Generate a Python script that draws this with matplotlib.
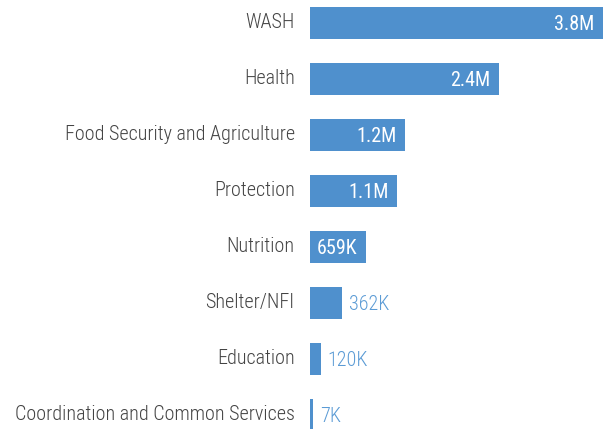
import matplotlib.pyplot as plt
import matplotlib.transforms as mtransforms

plt.rcParams['font.family'] = ['Roboto Condensed', 'Roboto', 'DejaVu Sans']
plt.rcParams['font.weight'] = 'light'

categories = ['WASH', 'Health', 'Food Security and Agriculture', 'Protection',
              'Nutrition', 'Shelter/NFI', 'Education', 'Coordination and Common Services']
values = [3.8e6, 2.45e6, 1.23e6, 1.13e6, 0.72e6, 0.41e6, 0.14e6, 0.045e6]
labels = ['3.8M', '2.4M', '1.2M', '1.1M', '659K', '362K', '120K', '7K']

bar_color = '#4f90cd'

fig = plt.figure(figsize=(6.06, 4.29), dpi=100)
ax = fig.add_axes([310 / 606, 0, 293 / 606, 1])

pos = list(range(len(categories)))
ax.barh(pos, values, height=0.57, color=bar_color)
ax.set_xlim(0, 3.8e6)
ax.set_ylim(7.25, -0.41)

for i, (v, lab) in enumerate(zip(values, labels)):
    if v >= 600e3:
        ax.annotate(lab, (v, i), xytext=(-6, -1), textcoords='offset points',
                    ha='right', va='center', color='white', fontsize=14.5,
                    fontweight='normal')
    else:
        ax.annotate(lab, (v, i), xytext=(5, -1), textcoords='offset points',
                    ha='left', va='center', color='#5b9bd5', fontsize=14.5)

ax.set_yticks(pos)
ax.set_yticklabels(categories, fontsize=14.5, color='#444444')
ax.tick_params(axis='y', length=0, pad=11)
# nudge category labels up a little
shift = mtransforms.ScaledTranslation(0, 2 / 72, fig.dpi_scale_trans)
for t in ax.get_yticklabels():
    t.set_transform(t.get_transform() + shift)
ax.set_xticks([])
for s in ax.spines.values():
    s.set_visible(False)

plt.savefig('out.png', dpi=100)
